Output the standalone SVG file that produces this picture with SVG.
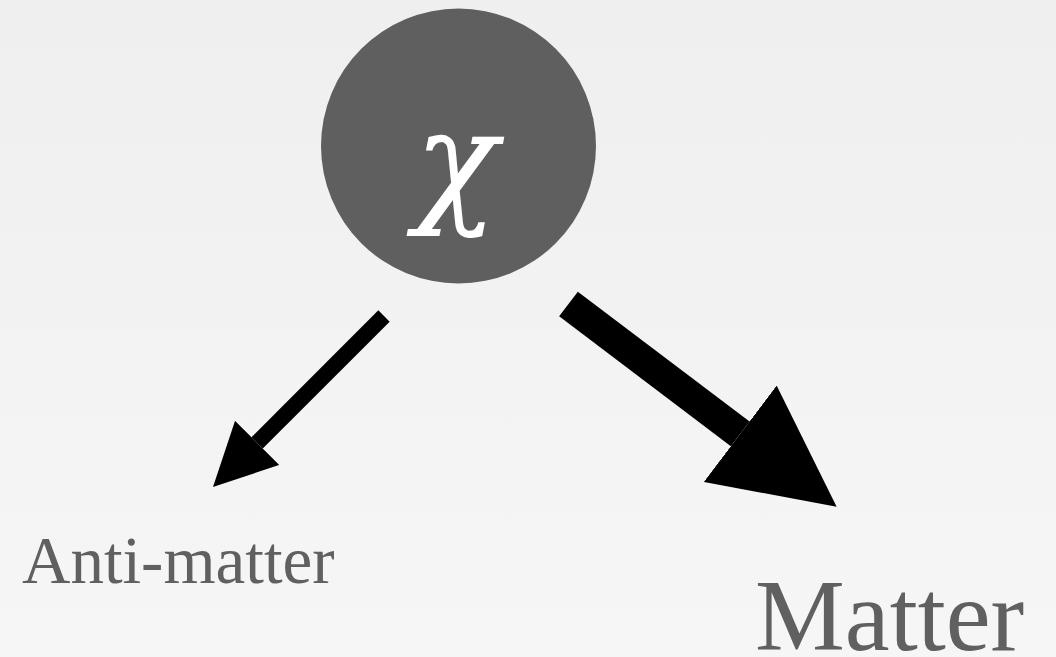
<svg xmlns="http://www.w3.org/2000/svg" width="1056" height="657" viewBox="0 0 1056 657">
  <defs>
    <linearGradient id="bg" x1="0" y1="0" x2="0" y2="1">
      <stop offset="0" stop-color="#efefef"/>
      <stop offset="1" stop-color="#f6f6f6"/>
    </linearGradient>
    <marker id="head" viewBox="0 0 3.9 3.9" markerWidth="3.9" markerHeight="3.9" refX="0" refY="1.95" orient="auto" markerUnits="strokeWidth">
      <path d="M0,0 L3.9,1.95 L0,3.9 z" fill="#000"/>
    </marker>
    <style>
      .label { font-family: "Liberation Serif", "Times New Roman", serif; fill: #606060; }
      .arrow { stroke: #000; fill: none; marker-end: url(#head); }
    </style>
  </defs>
  <rect width="1056" height="657" fill="url(#bg)"/>
  <g id="chi">
    <circle cx="458.5" cy="146" r="137.5" fill="#5f5f5f"/>
    <text x="456" y="208" text-anchor="middle" font-family="'DejaVu Serif', serif" font-style="italic" font-size="137" fill="#ffffff">χ</text>
  </g>
  <g id="connectors">
    <line class="arrow" x1="384" y1="316" x2="257.1" y2="442.9" stroke-width="16"/>
    <line class="arrow" x1="568.5" y1="304" x2="740.2" y2="433.8" stroke-width="31"/>
  </g>
  <g id="antimatter">
    <text class="label" x="22" y="583" font-size="67">Anti-matter</text>
  </g>
  <g id="matter">
    <text class="label" x="755" y="650" font-size="101">Matter</text>
  </g>
</svg>
